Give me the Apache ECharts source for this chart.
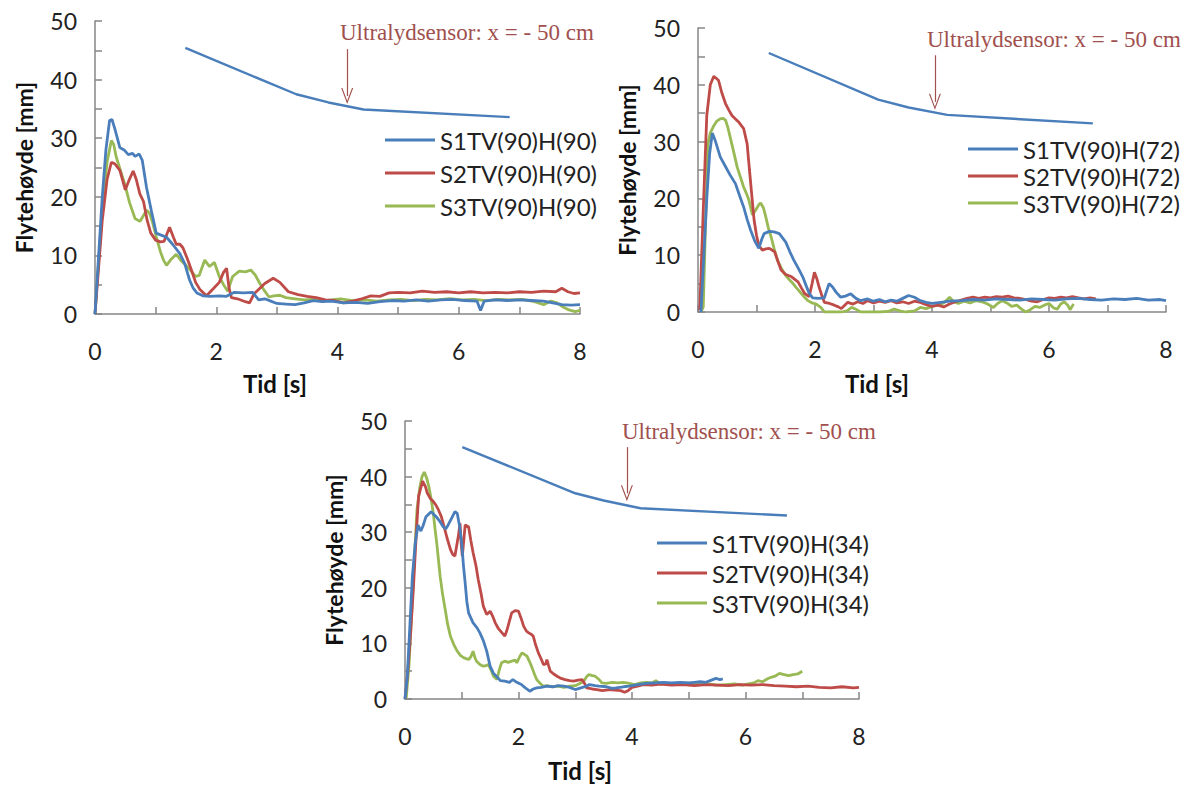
<!DOCTYPE html>
<html>
<head>
<meta charset="utf-8">
<title>Flytehøyde</title>
<script src="https://cdn.jsdelivr.net/npm/echarts@6/dist/echarts.min.js"></script>
<style>
  html, body { margin: 0; padding: 0; background: #fff; }
  #main { width: 1190px; height: 787px; }
</style>
</head>
<body>
<div id="main"></div>
<script>
// tick labels
const xTicks = [0, 2, 4, 6, 8]
const yTicks = [0, 10, 20, 30, 40, 50]

// series names
const names1 = ['S1TV(90)H(90)', 'S2TV(90)H(90)', 'S3TV(90)H(90)']
const names2 = ['S1TV(90)H(72)', 'S2TV(90)H(72)', 'S3TV(90)H(72)']
const names3 = ['S1TV(90)H(34)', 'S2TV(90)H(34)', 'S3TV(90)H(34)']

// chart 1 : H(90)   [tid s, flytehøyde mm]
const c1S1 = [[0,0],[0.06,10],[0.12,20],[0.18,28],[0.24,33],[0.28,33.2],[0.33,31.5],[0.41,28.4],[0.48,28],[0.55,27.2],[0.62,27.4],[0.66,26.9],[0.73,27.3],[0.78,26.2],[0.85,21.6],[0.93,17.6],[1.01,13.8],[1.08,13.5],[1.18,13.1],[1.28,11.9],[1.4,10.3],[1.48,8.6],[1.56,5.8],[1.62,4.4],[1.68,3.6],[1.78,3.1],[1.9,3.0],[2.05,3.1],[2.16,3.0],[2.3,3.7],[2.45,3.6],[2.6,3.7],[2.7,2.4],[2.8,2.6],[2.9,2.2],[3.0,1.8],[3.15,1.7],[3.3,1.6],[3.45,1.9],[3.6,2.3],[3.75,2.1],[3.9,2.2],[4.1,1.9],[4.3,2.0],[4.5,1.8],[4.7,2.1],[4.9,2.3],[5.1,2.2],[5.3,2.4],[5.5,2.2],[5.7,2.4],[5.9,2.5],[6.1,2.3],[6.3,2.2],[6.36,0.6],[6.42,2.2],[6.6,2.4],[6.8,2.3],[7.0,2.4],[7.2,2.3],[7.4,2.2],[7.55,1.9],[7.7,1.6],[7.85,1.5],[8.0,1.6]]
const c1S2 = [[0,0],[0.06,8],[0.12,16],[0.2,23],[0.27,25.9],[0.33,25.6],[0.41,24.5],[0.5,21.2],[0.56,22.8],[0.63,24.4],[0.68,23],[0.74,20.5],[0.8,19.2],[0.86,16],[0.92,13.8],[1.0,12.6],[1.08,12.3],[1.14,12.4],[1.23,14.8],[1.29,13.2],[1.34,11.9],[1.4,11.9],[1.45,11.3],[1.52,9.5],[1.58,7.8],[1.66,5.4],[1.73,4.2],[1.84,3.1],[1.95,4.3],[2.05,5.4],[2.12,7.1],[2.17,7.8],[2.21,4.5],[2.25,2.8],[2.35,2.6],[2.48,2.1],[2.55,1.9],[2.62,3.4],[2.72,4.4],[2.8,5.2],[2.94,6.1],[3.05,5.4],[3.19,3.8],[3.35,3.3],[3.5,3.0],[3.65,2.8],[3.8,2.4],[3.95,2.3],[4.1,1.9],[4.25,2.2],[4.4,2.6],[4.55,3.1],[4.7,3.0],[4.85,3.6],[5.0,3.7],[5.2,3.6],[5.4,3.9],[5.6,3.7],[5.8,3.8],[6.0,3.6],[6.2,3.8],[6.4,3.6],[6.6,3.7],[6.8,3.6],[7.0,3.8],[7.2,3.7],[7.4,3.9],[7.6,3.8],[7.7,4.4],[7.8,3.8],[7.9,3.5],[8.0,3.6]]
const c1S3 = [[0,0],[0.06,9],[0.12,18],[0.2,26],[0.27,29.6],[0.31,28.9],[0.35,26.8],[0.42,24.5],[0.49,22.2],[0.57,19],[0.66,16.3],[0.74,15.8],[0.8,16.8],[0.85,17.7],[0.9,17.2],[0.95,15.6],[1.01,13.2],[1.08,10.6],[1.13,9.2],[1.18,8.3],[1.26,9.4],[1.34,10.2],[1.42,9.1],[1.5,8.3],[1.58,7.4],[1.66,6.4],[1.72,6.6],[1.81,9.2],[1.89,8.1],[1.97,8.8],[2.05,6.4],[2.12,5.0],[2.19,3.9],[2.27,6.4],[2.38,7.3],[2.48,7.2],[2.57,7.5],[2.64,6.7],[2.72,5.2],[2.8,3.9],[2.87,2.9],[2.95,3.1],[3.05,3.2],[3.15,2.8],[3.3,2.6],[3.45,2.4],[3.6,2.5],[3.75,2.2],[3.9,2.4],[4.05,2.6],[4.25,2.3],[4.45,2.4],[4.65,2.2],[4.85,2.4],[5.05,2.5],[5.25,2.3],[5.45,2.5],[5.65,2.4],[5.85,2.6],[6.05,2.4],[6.25,2.5],[6.45,2.3],[6.65,2.5],[6.85,2.4],[7.05,2.5],[7.25,2.1],[7.4,1.6],[7.52,2.2],[7.62,1.9],[7.72,1.2],[7.82,0.7],[7.92,0.4],[8.0,0.6]]
const c1Sensor = [[1.49,45.4],[3.32,37.5],[3.85,36.1],[4.43,34.9],[6.84,33.6]]
const c1Arrow = [[4.16,45.2],[4.16,37.2]]

// chart 2 : H(72)
const c2S1 = [[0.05,0],[0.1,10],[0.15,20],[0.2,28],[0.245,31.5],[0.3,30],[0.38,27.3],[0.46,25.8],[0.55,24.1],[0.64,22.6],[0.71,20.5],[0.78,18.5],[0.84,16.3],[0.9,14.4],[0.97,12.5],[1.04,11.2],[1.09,12.8],[1.13,13.8],[1.22,14.2],[1.3,14.1],[1.39,13.8],[1.5,12.3],[1.57,10.6],[1.64,9.1],[1.72,7.6],[1.79,6.2],[1.85,4.6],[1.9,3.3],[1.96,2.5],[2.06,2.4],[2.16,2.5],[2.24,5.0],[2.3,4.4],[2.36,3.5],[2.44,2.6],[2.52,2.8],[2.61,3.2],[2.7,2.4],[2.78,2.0],[2.9,2.3],[3.0,1.9],[3.1,2.2],[3.2,1.8],[3.3,2.1],[3.4,1.9],[3.5,2.4],[3.6,2.9],[3.7,2.6],[3.8,2.0],[3.9,1.7],[4.0,1.5],[4.15,1.7],[4.3,1.9],[4.5,2.0],[4.7,2.2],[4.9,2.1],[5.1,2.3],[5.3,2.2],[5.5,2.1],[5.7,2.3],[5.9,2.2],[6.1,2.1],[6.3,2.3],[6.5,2.4],[6.7,2.2],[6.9,2.1],[7.1,2.3],[7.3,2.2],[7.5,2.4],[7.7,2.1],[7.9,2.2],[8.0,2.0]]
const c2S2 = [[0.03,0.3],[0.09,18],[0.15,34.6],[0.21,40],[0.27,41.5],[0.35,40.8],[0.41,38.5],[0.47,36.7],[0.53,35.5],[0.58,34.6],[0.64,34],[0.7,33.4],[0.78,32.3],[0.84,29.6],[0.88,25],[0.92,20.5],[0.96,16.1],[1.0,13.5],[1.04,11.7],[1.1,10.9],[1.16,11.1],[1.22,11.2],[1.31,10.6],[1.37,8.8],[1.42,7.4],[1.5,6.6],[1.6,6.2],[1.71,5.3],[1.77,4.2],[1.82,3.3],[1.9,2.7],[1.95,5.0],[1.99,7.0],[2.03,5.9],[2.07,4.4],[2.12,2.8],[2.16,1.7],[2.25,1.5],[2.33,1.2],[2.4,0.9],[2.45,0.6],[2.5,1.1],[2.56,1.7],[2.65,1.4],[2.73,1.8],[2.82,1.5],[2.9,2.0],[3.0,1.6],[3.1,1.9],[3.2,1.7],[3.3,2.0],[3.4,1.6],[3.5,1.8],[3.6,1.5],[3.7,1.9],[3.8,1.7],[3.9,1.3],[4.0,1.0],[4.1,1.2],[4.2,0.9],[4.3,1.4],[4.4,1.8],[4.5,2.1],[4.6,2.4],[4.7,2.6],[4.8,2.4],[4.9,2.6],[5.0,2.5],[5.1,2.7],[5.2,2.6],[5.3,2.8],[5.4,2.5],[5.5,2.4],[5.6,2.2],[5.7,1.9],[5.8,1.8],[5.9,2.2],[6.0,2.5],[6.1,2.4],[6.2,2.6],[6.3,2.5],[6.4,2.7],[6.5,2.5],[6.6,2.3],[6.7,2.5],[6.8,2.3]]
const c2S3 = [[0.05,0],[0.09,0.9],[0.13,16],[0.17,29.6],[0.21,31.5],[0.26,32.6],[0.32,33.6],[0.38,34.0],[0.43,34.1],[0.47,33.8],[0.51,32.5],[0.55,30.8],[0.61,28.2],[0.67,25.5],[0.73,23.6],[0.78,22],[0.83,20.8],[0.87,19.7],[0.93,17.1],[0.99,18],[1.04,18.9],[1.07,19.2],[1.12,18.3],[1.16,16.7],[1.2,14.9],[1.25,13.2],[1.3,11.2],[1.36,9.1],[1.42,7.8],[1.48,6.7],[1.55,5.8],[1.6,5.3],[1.68,4.3],[1.77,3.2],[1.83,2.5],[1.88,2.0],[1.95,1.6],[2.02,1.4],[2.1,0.8],[2.16,0],[2.3,0],[2.45,0],[2.55,0.2],[2.62,0.8],[2.68,0.6],[2.78,0],[2.95,0],[3.1,0],[3.25,0.1],[3.35,0.5],[3.45,0.2],[3.55,0],[3.7,0.2],[3.8,0.8],[3.9,0.6],[4.0,1.0],[4.1,1.2],[4.2,1.6],[4.3,2.6],[4.37,1.8],[4.45,1.5],[4.55,1.9],[4.65,1.6],[4.75,2.0],[4.85,1.8],[4.95,1.4],[5.05,0.8],[5.12,1.5],[5.2,2.0],[5.28,1.6],[5.36,1.0],[5.45,1.2],[5.52,0.6],[5.6,0],[5.68,0.4],[5.76,1.0],[5.84,0.8],[5.92,1.2],[6.0,1.5],[6.08,0.7],[6.14,0.5],[6.2,1.4],[6.26,1.8],[6.32,1.2],[6.36,0.4],[6.42,1.4]]
const c2Sensor = [[1.21,45.6],[3.08,37.4],[3.6,36.0],[4.26,34.7],[6.75,33.2]]
const c2Arrow = [[4.05,45.2],[4.05,37.0]]

// chart 3 : H(34)
const c3S1 = [[0,0],[0.04,4],[0.08,12],[0.13,22],[0.18,28],[0.23,31.3],[0.28,30.2],[0.32,31.2],[0.37,32.8],[0.46,33.7],[0.55,32.8],[0.61,32],[0.67,31],[0.72,30.6],[0.76,31.3],[0.82,32.5],[0.88,33.7],[0.92,33.4],[0.96,31.2],[1.0,28],[1.03,24],[1.06,20.9],[1.09,17.5],[1.12,15.5],[1.2,13.7],[1.27,12.8],[1.32,11.9],[1.38,10.5],[1.44,8.6],[1.5,5.9],[1.56,4.6],[1.62,4.0],[1.68,3.3],[1.76,3.2],[1.84,3.0],[1.9,3.5],[1.97,3.0],[2.05,2.6],[2.12,2.0],[2.2,1.4],[2.26,1.8],[2.32,2.0],[2.4,2.1],[2.5,2.3],[2.6,2.2],[2.7,2.4],[2.8,2.3],[2.9,2.1],[3.0,1.7],[3.1,2.0],[3.2,2.3],[3.25,2.6],[3.35,2.4],[3.42,2.3],[3.55,2.2],[3.65,1.9],[3.72,2.0],[3.85,2.2],[3.95,2.3],[4.1,2.6],[4.25,2.8],[4.4,2.9],[4.55,3.0],[4.7,2.9],[4.85,3.0],[5.0,2.9],[5.1,3.0],[5.2,3.1],[5.3,3.0],[5.4,3.4],[5.48,3.7],[5.55,3.5],[5.6,3.6]]
const c3S2 = [[0,0],[0.05,5],[0.1,12],[0.15,20.3],[0.2,30],[0.24,36.5],[0.31,39.2],[0.36,38.2],[0.39,37.1],[0.45,36],[0.5,35.5],[0.55,34.8],[0.59,34],[0.64,32.8],[0.68,31.3],[0.74,29],[0.8,26.9],[0.84,26],[0.88,25.7],[0.91,27.5],[0.94,29.3],[0.97,31.6],[0.99,28],[1.01,25.7],[1.04,29],[1.06,31.3],[1.12,31.0],[1.16,28.5],[1.2,26.3],[1.25,24],[1.29,21.5],[1.34,19],[1.38,16.7],[1.44,15.2],[1.5,15.8],[1.54,15],[1.59,13.7],[1.65,12.6],[1.71,11.9],[1.76,11.3],[1.8,12.5],[1.84,14],[1.88,15.5],[1.94,15.9],[2.0,15.8],[2.05,14.4],[2.09,13.1],[2.14,12.2],[2.18,11.9],[2.23,11.6],[2.26,11.3],[2.3,9.8],[2.35,8.3],[2.4,7.2],[2.44,6.2],[2.48,6.3],[2.5,7.1],[2.53,6.0],[2.56,5.0],[2.62,4.5],[2.68,4.1],[2.75,3.7],[2.82,3.5],[2.9,3.3],[2.97,3.2],[3.05,3.4],[3.12,3.5],[3.17,2.7],[3.2,2.0],[3.3,1.8],[3.38,1.7],[3.48,1.5],[3.6,1.7],[3.7,1.6],[3.8,1.5],[3.87,1.2],[3.93,1.5],[4.0,2.1],[4.1,2.3],[4.2,2.6],[4.35,2.5],[4.5,2.7],[4.7,2.5],[4.9,2.6],[5.1,2.4],[5.3,2.6],[5.5,2.5],[5.7,2.4],[5.9,2.6],[6.1,2.5],[6.3,2.6],[6.5,2.4],[6.7,2.3],[6.9,2.2],[7.1,2.3],[7.3,2.1],[7.5,2.0],[7.7,2.2],[7.9,2.0],[8.0,2.1]]
const c3S3 = [[0.02,0],[0.07,6],[0.12,16],[0.17,26],[0.21,33.9],[0.26,38],[0.3,40],[0.34,40.8],[0.38,39.8],[0.42,38.2],[0.46,36],[0.5,33.3],[0.53,30.5],[0.56,28],[0.59,25],[0.62,22],[0.66,19],[0.71,16],[0.75,13.5],[0.8,11.3],[0.86,9.8],[0.92,8.6],[0.98,7.8],[1.04,7.4],[1.12,7.1],[1.16,7.6],[1.2,8.6],[1.23,7.5],[1.26,6.8],[1.32,6.2],[1.38,5.9],[1.43,6.0],[1.47,6.2],[1.52,5.1],[1.56,4.1],[1.62,3.5],[1.66,5.2],[1.7,6.5],[1.76,6.8],[1.82,6.6],[1.88,6.8],[1.94,7.0],[1.97,6.5],[2.02,7.6],[2.06,8.3],[2.11,8.0],[2.15,7.7],[2.2,6.6],[2.24,5.6],[2.28,4.5],[2.32,3.5],[2.38,2.8],[2.44,2.3],[2.5,2.4],[2.6,2.2],[2.7,2.3],[2.8,2.1],[2.9,2.3],[3.0,2.4],[3.08,2.8],[3.15,3.2],[3.2,4.0],[3.24,4.4],[3.3,4.2],[3.35,4.1],[3.42,3.5],[3.47,2.9],[3.55,2.8],[3.65,3.0],[3.75,2.9],[3.85,3.0],[3.95,2.8],[4.05,2.6],[4.15,2.9],[4.25,3.0],[4.35,2.9],[4.42,3.3],[4.5,2.7],[4.6,2.8],[4.75,2.7],[4.9,2.9],[5.05,2.8],[5.2,2.6],[5.35,2.7],[5.5,2.5],[5.65,2.6],[5.8,2.7],[5.95,2.5],[6.05,2.7],[6.15,2.9],[6.22,3.3],[6.3,3.1],[6.38,3.6],[6.45,3.9],[6.52,4.1],[6.6,4.6],[6.68,4.4],[6.76,4.2],[6.84,4.4],[6.92,4.5],[7.0,5.0]]
const c3Sensor = [[1.01,45.3],[3.0,37.0],[3.5,35.7],[4.15,34.3],[6.73,33.0]]
const c3Arrow = [[3.91,45.3],[3.91,37.0]]

const colors = ['#4a7ebb', '#be4b48', '#98b954']
const noteColor = '#a0504d'
const axisGray = '#868686'
const arrowHead = 'path://M6,0 L12,16 L10.8,16 L6,3.2 L1.2,16 L0,16 Z'

const grids = [
  { left: 95, top: 21, width: 485, height: 293 },
  { left: 698, top: 28, width: 468, height: 284 },
  { left: 405, top: 421, width: 454, height: 278 }
]

function xAxisFor (i) {
  return {
    type: 'value',
    gridIndex: i,
    min: xTicks[0],
    max: xTicks[xTicks.length - 1],
    interval: 2,
    axisLine: { lineStyle: { color: axisGray, width: 1.5 } },
    axisTick: { inside: true, length: 7, lineStyle: { color: axisGray, width: 1.5 } },
    minorTick: { show: true, splitNumber: 2, length: 7, lineStyle: { color: axisGray, width: 1.5 } },
    splitLine: { show: false },
    axisLabel: { margin: 25, fontFamily: 'Lato', fontSize: 23, color: '#222' }
  }
}

function yAxisFor (i) {
  return {
    type: 'value',
    gridIndex: i,
    min: yTicks[0],
    max: yTicks[yTicks.length - 1],
    interval: 10,
    name: 'Flytehøyde [mm]',
    nameLocation: 'middle',
    nameGap: 60,
    nameTextStyle: { fontFamily: 'Lato', fontWeight: 'bold', fontSize: 23, color: '#111' },
    axisLine: { show: true, lineStyle: { color: axisGray, width: 1.5 } },
    axisTick: { show: true, inside: true, length: 7, lineStyle: { color: axisGray, width: 1.5 } },
    minorTick: { show: true, splitNumber: 2, length: 7, lineStyle: { color: axisGray, width: 1.5 } },
    splitLine: { show: false },
    axisLabel: { margin: 18, fontFamily: 'Lato', fontSize: 23, color: '#222' }
  }
}

function dataSeries (name, data, i, k) {
  return {
    name: name,
    type: 'line',
    xAxisIndex: i,
    yAxisIndex: i,
    data: data,
    showSymbol: false,
    symbol: 'none',
    itemStyle: { color: colors[k] },
    lineStyle: { color: colors[k], width: 2.8 },
    z: 3 - k
  }
}

function sensorSeries (data, arrow, i) {
  return {
    name: 'sensor' + i,
    type: 'line',
    xAxisIndex: i,
    yAxisIndex: i,
    data: data,
    symbol: 'none',
    lineStyle: { color: colors[0], width: 2.4 },
    markLine: {
      silent: true,
      symbol: ['none', arrowHead],
      symbolSize: [12, 16],
      label: { show: false },
      lineStyle: { color: noteColor, width: 1.2, type: 'solid' },
      data: [[{ coord: arrow[0] }, { coord: arrow[1] }]]
    }
  }
}

function legendFor (names, left, top, gap) {
  return {
    data: names,
    orient: 'vertical',
    left: left,
    top: top,
    icon: 'rect',
    itemWidth: 50,
    itemHeight: 3,
    itemGap: gap,
    selectedMode: false,
    textStyle: { fontFamily: 'Lato', fontSize: 24, lineHeight: 22, color: '#222' }
  }
}

function note (left, top) {
  return {
    type: 'text',
    left: left,
    top: top,
    style: { text: 'Ultralydsensor: x = - 50 cm', font: '23px "Liberation Serif"', fill: noteColor }
  }
}

function xTitle (x, y) {
  return {
    type: 'text',
    x: x,
    y: y,
    style: { text: 'Tid [s]', font: 'bold 24px Lato', fill: '#111', align: 'center', verticalAlign: 'middle' }
  }
}

const option = {
  animation: false,
  backgroundColor: '#fff',
  grid: grids,
  xAxis: [xAxisFor(0), xAxisFor(1), xAxisFor(2)],
  yAxis: [yAxisFor(0), yAxisFor(1), yAxisFor(2)],
  legend: [
    legendFor(names1, 380, 123, 9),
    legendFor(names2, 963, 132, 3),
    legendFor(names3, 652, 526, 6)
  ],
  series: [
    sensorSeries(c1Sensor, c1Arrow, 0),
    dataSeries(names1[0], c1S1, 0, 0),
    dataSeries(names1[1], c1S2, 0, 1),
    dataSeries(names1[2], c1S3, 0, 2),
    sensorSeries(c2Sensor, c2Arrow, 1),
    dataSeries(names2[0], c2S1, 1, 0),
    dataSeries(names2[1], c2S2, 1, 1),
    dataSeries(names2[2], c2S3, 1, 2),
    sensorSeries(c3Sensor, c3Arrow, 2),
    dataSeries(names3[0], c3S1, 2, 0),
    dataSeries(names3[1], c3S2, 2, 1),
    dataSeries(names3[2], c3S3, 2, 2)
  ],
  graphic: [
    note(340, 21),
    note(927, 28),
    note(622, 420),
    xTitle(275, 383),
    xTitle(877, 383),
    xTitle(580, 770)
  ]
}

const chart = echarts.init(document.getElementById('main'), null, { renderer: 'svg' })
chart.setOption(option)
</script>
</body>
</html>
